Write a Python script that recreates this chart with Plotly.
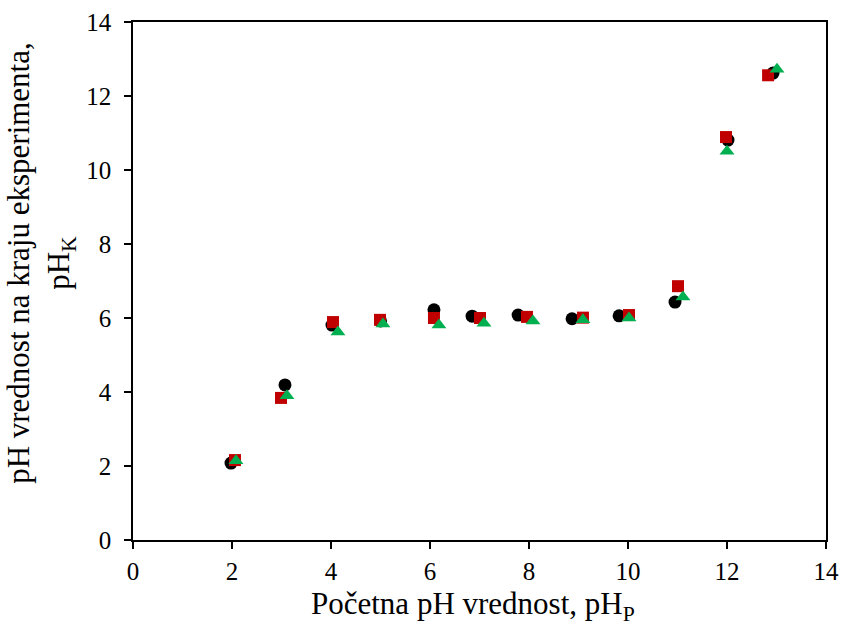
import plotly.graph_objects as go

# Series 1 (black circles)
x1 = [1.98, 3.07, 4.02, 5.00, 6.08, 6.85, 7.78, 8.87, 9.82, 10.95, 12.02, 12.93]
y1 = [2.08, 4.19, 5.81, 5.92, 6.22, 6.05, 6.08, 5.98, 6.06, 6.43, 10.81, 12.62]
# Series 2 (red squares)
x2 = [2.06, 2.99, 4.04, 4.99, 6.08, 7.01, 7.96, 9.09, 10.02, 11.01, 11.98, 12.83]
y2 = [2.16, 3.84, 5.89, 5.95, 6.00, 6.00, 6.03, 6.01, 6.08, 6.86, 10.89, 12.56]
# Series 3 (green triangles)
x3 = [2.08, 3.11, 4.14, 5.05, 6.18, 7.09, 8.08, 9.09, 10.02, 11.11, 12.00, 13.01]
y3 = [2.14, 3.90, 5.62, 5.84, 5.81, 5.86, 5.92, 5.95, 6.00, 6.57, 10.51, 12.72]

tick_vals = [0, 2, 4, 6, 8, 10, 12, 14]
x_title = "Početna pH vrednost, pH<sub>P</sub>"
y_title = "pH vrednost na kraju eksperimenta,<br>pH<sub>K</sub>"

fig = go.Figure()
fig.add_trace(go.Scatter(x=x1, y=y1, mode="markers",
                         marker=dict(symbol="circle", size=13, color="#000000")))
fig.add_trace(go.Scatter(x=x2, y=y2, mode="markers",
                         marker=dict(symbol="square", size=12, color="#C00000")))
fig.add_trace(go.Scatter(x=x3, y=y3, mode="markers",
                         marker=dict(symbol="triangle-up", size=13, color="#00B050")))

font_family = "Liberation Serif"
fig.update_layout(
    width=843, height=635,
    margin=dict(l=133, r=17, t=22, b=95),
    plot_bgcolor="white", paper_bgcolor="white",
    showlegend=False,
    font=dict(family=font_family, size=25, color="black"),
)
fig.update_xaxes(
    range=[0, 14], tickvals=tick_vals, showgrid=False, zeroline=False,
    showline=True, linecolor="black", linewidth=1.5, mirror=True,
    ticks="outside", ticklen=7, tickwidth=1.5, tickcolor="black",
    tickfont=dict(size=25, family=font_family, color="black"),
    ticklabelstandoff=1, automargin=False,
)
fig.update_yaxes(
    range=[0, 14], tickvals=tick_vals, showgrid=False, zeroline=False,
    showline=True, linecolor="black", linewidth=1.5, mirror=True,
    ticks="outside", ticklen=7, tickwidth=1.5, tickcolor="black",
    tickfont=dict(size=25, family=font_family, color="black"),
    ticklabelstandoff=8, automargin=False,
)
fig.add_annotation(text=x_title, xref="paper", yref="paper", x=0.49, y=0,
                   xanchor="center", yanchor="top", yshift=-44, showarrow=False,
                   font=dict(size=31, family=font_family, color="black"))
fig.add_annotation(text=y_title, xref="paper", yref="paper", x=0, y=0.535,
                   xanchor="right", yanchor="middle", xshift=-50, textangle=-90,
                   showarrow=False,
                   font=dict(size=31, family=font_family, color="black"))

fig.write_html("out.html")
